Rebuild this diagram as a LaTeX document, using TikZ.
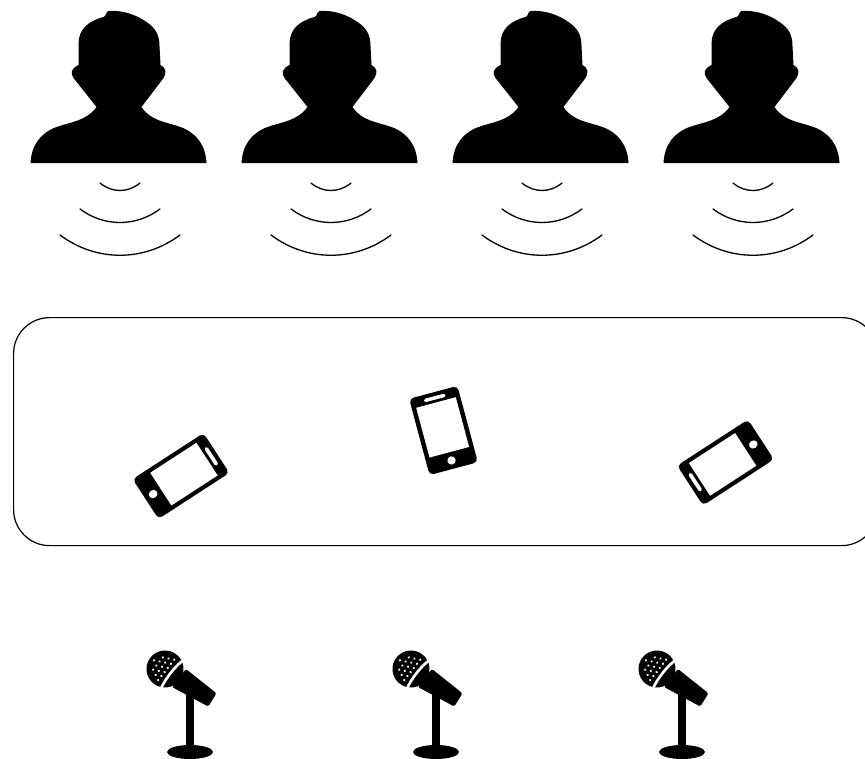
\documentclass[tikz,border=0pt]{standalone}
\tikzset{
  personshape/.pic={
    \fill[black] (-88,163) .. controls (-87,145) and (-78,133) .. (-62,127)
      .. controls (-48,122) and (-32,121) .. (-22,107)
      -- (-45,78) .. controls (-48,73) and (-48,69) .. (-40,65)
      -- (-40,44) .. controls (-40,29) and (-30,21) .. (-15,17)
      .. controls (-12,16) and (-13,12) .. (-10,11)
      .. controls (5,10) and (18,15) .. (28,22)
      .. controls (37,28) and (41,35) .. (41,46)
      -- (42,65) .. controls (48,68) and (48,73) .. (45,78)
      -- (23,107) .. controls (32,121) and (48,122) .. (62,127)
      .. controls (78,133) and (87,145) .. (88,163) -- cycle;
  },
  waveline/.style={draw=black,line width=1.3pt,line cap=round},
  wavesgroup/.pic={
    \draw[waveline] (-20,183) .. controls (-8,193) and (8,193) .. (20,183);
    \draw[waveline] (-40,209) .. controls (-16,227) and (16,227) .. (40,209);
    \draw[waveline] (-60,235) .. controls (-24,262) and (24,262) .. (60,235);
  },
  phoneshape/.pic={
    \fill[black,rounded corners=4.5pt] (-25,-39.5) rectangle (25,39.5);
    \fill[white] (-20.5,-29) rectangle (20.5,22.5);
    \fill[white,rounded corners=1.5pt] (-11,-35.5) rectangle (11,-32);
    \fill[white] (0,31) circle (4.2);
  },
  micshape/.pic={
    \fill[black] (0,-6) ellipse (23 and 7);
    \fill[black] (-3.6,-65) rectangle (3.6,-6);
    \fill[black,rounded corners=1.5pt] (-4,-89) -- (26.5,-64.7) -- (18.3,-51.5) -- (-18,-71) -- cycle;
    \begin{scope}[shift={(-25,-89)},rotate=-38]
      \fill[black] (0,0) circle (18.5);
      \fill[white] (10.5,-19) .. controls (7.5,-8) and (7.5,8) .. (10.5,19)
        -- (7.8,19) .. controls (4.8,8) and (4.8,-8) .. (7.8,-19) -- cycle;
      \foreach \a in {-3,...,0} \foreach \b in {-3,...,3}{
        \pgfmathsetmacro{\px}{\a*5.2+1.5}
        \pgfmathsetmacro{\py}{\b*5.2+(mod(\a+3,2))*2.6}
        \pgfmathparse{(\px*\px+\py*\py<225)?1:0}
        \ifnum\pgfmathresult=1
          \fill[white] (\px,\py) circle (1.25);
        \fi
      }
    \end{scope}
  },
  panelbox/.style={draw=black,line width=1.2pt,rounded corners=36pt}
}
\begin{document}
\begin{tikzpicture}[x=1pt,y=-1pt]
  \useasboundingbox (0,0) rectangle (865,758);
  \clip (0,0) rectangle (865,758);
  \fill[white] (0,0) rectangle (865,758);
  \foreach \c in {118.5,329.5,540.5,751.5} \pic at (\c,0) {personshape};
  \foreach \c in {120,331,542,753} \pic at (\c,0) {wavesgroup};
  \node[panelbox,minimum width=864pt,minimum height=228pt,inner sep=0pt,anchor=north west] (panel) at (13,317) {};
  \pic[rotate=-57,yscale=1.07,xscale=0.95] at (181,476) {phoneshape};
  \pic[rotate=15] at (443.5,430.5) {phoneshape};
  \pic[rotate=123,yscale=1.07,xscale=0.95] at (725.5,462.5) {phoneshape};
  \foreach \c in {190,436,682} \pic at (\c,758) {micshape};
\end{tikzpicture}
\end{document}
